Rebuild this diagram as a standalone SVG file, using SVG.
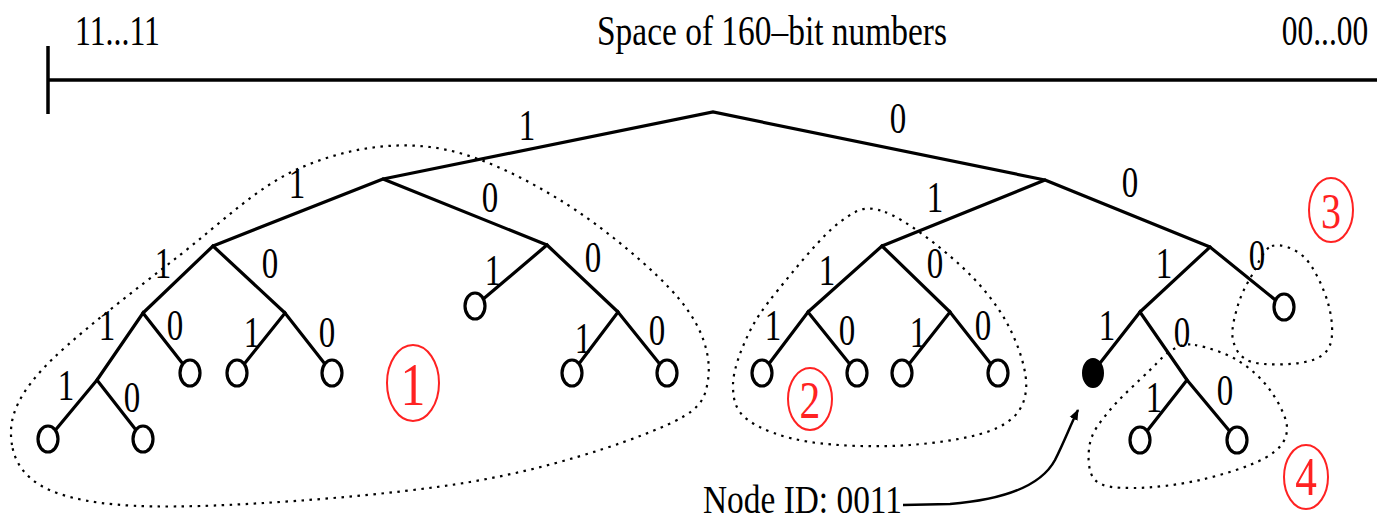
<svg xmlns="http://www.w3.org/2000/svg" width="1377" height="522" viewBox="0 0 1377 522">
<style>
.axis{stroke:#000;stroke-width:3.5;fill:none}
.edge{stroke:#000;stroke-width:3.2;fill:none;stroke-linecap:round}
.leaf{fill:#fff;stroke:#000;stroke-width:3.2}
.me{fill:#000;stroke:#000;stroke-width:2}
.dot{fill:none;stroke:#000;stroke-width:2.2;stroke-dasharray:2.5 5.5}
.ttl{font-family:"Liberation Serif","Times New Roman",serif;font-size:43px;fill:#000}
.sq{text-anchor:middle;transform-box:fill-box;transform-origin:center;transform:scaleX(0.73)}
.lbl{font-family:"Liberation Serif","Times New Roman",serif;font-size:44px;fill:#000;text-anchor:middle;transform-box:fill-box;transform-origin:center;transform:scaleX(0.75)}
.rc{fill:none;stroke:#f22;stroke-width:2}
.rn{font-family:"Liberation Serif","Times New Roman",serif;fill:#f22;text-anchor:middle;transform-box:fill-box;transform-origin:center;transform:scaleX(0.8)}
</style>
<defs>
<marker id="ah" viewBox="0 0 10 10" refX="9" refY="5" markerUnits="userSpaceOnUse" markerWidth="11" markerHeight="11" orient="auto">
<path d="M0,1 L10,5 L0,9 z" fill="#000"/>
</marker>
</defs>
<rect width="1377" height="522" fill="#fff"/>

<g id="axis">
<line class="axis" x1="48" y1="80" x2="1377" y2="80"/>
<line class="axis" x1="48" y1="46" x2="48" y2="114"/>
<text class="ttl" x="75" y="45" textLength="85" lengthAdjust="spacingAndGlyphs">11...11</text>
<text class="ttl" x="597" y="45" textLength="350" lengthAdjust="spacingAndGlyphs">Space of 160–bit numbers</text>
<text class="ttl sq" x="1325" y="45">00...00</text>
</g>

<g id="regions">
<path class="dot" d="M12,445 C8.7,424.7 12,403.7 40,372 C68,340.3 136.7,289 180,255 C223.3,221 258.3,186 300,168 C341.7,150 386.7,141.7 430,147 C473.3,152.3 518.3,174.5 560,200 C601.7,225.5 655.3,270 680,300 C704.7,330 711.3,358.7 708,380 C704.7,401.3 699.7,411 660,428 C620.3,445 546.7,469 470,482 C393.3,495 268.3,504 200,506 C131.7,508 91.3,504.2 60,494 C28.7,483.8 15.3,465.3 12,445 Z"/>
<path class="dot" d="M885,212 C905,219.2 939.5,246.2 960,265 C980.5,283.8 997,304.2 1008,325 C1019,345.8 1027.8,372.8 1026,390 C1024.2,407.2 1016.3,418.8 997,428 C977.7,437.2 941.2,442.7 910,445 C878.8,447.3 837,446.2 810,442 C783,437.8 760.8,429.5 748,420 C735.2,410.5 733,399.2 733,385 C733,370.8 740.5,350.8 748,335 C755.5,319.2 762.7,308.8 778,290 C793.3,271.2 822.2,235 840,222 C857.8,209 865,204.8 885,212 Z"/>
<path class="dot" d="M1272,246 C1280.8,243.2 1295.7,248.5 1305,258 C1314.3,267.5 1323.8,288.5 1328,303 C1332.2,317.5 1333.8,335.2 1330,345 C1326.2,354.8 1318,359.2 1305,362 C1292,364.8 1264,365.7 1252,362 C1240,358.3 1235.3,349.5 1233,340 C1230.7,330.5 1234.8,315.8 1238,305 C1241.2,294.2 1246.3,284.8 1252,275 C1257.7,265.2 1263.2,248.8 1272,246 Z"/>
<path class="dot" d="M1195,345 C1205.8,346.7 1224.5,352.5 1237,360 C1249.5,367.5 1261.7,378.3 1270,390 C1278.3,401.7 1287.8,418.7 1287,430 C1286.2,441.3 1279.5,449.7 1265,458 C1250.5,466.3 1221.8,475 1200,480 C1178.2,485 1151.5,488 1134,488 C1116.5,488 1102.3,487.5 1095,480 C1087.7,472.5 1087.5,454.7 1090,443 C1092.5,431.3 1100,422.2 1110,410 C1120,397.8 1139.7,380 1150,370 C1160.3,360 1164.5,354.2 1172,350 C1179.5,345.8 1184.2,343.3 1195,345 Z"/>
</g>

<g id="connectors">
<polyline class="edge" points="383,179 713,112 1045,180"/>
<polyline class="edge" points="213,246 383,179 547,245"/>
<polyline class="edge" points="143,313 213,246 285,313"/>
<polyline class="edge" points="97,380 143,313 190,373"/>
<polyline class="edge" points="48,439 97,380 143,439"/>
<polyline class="edge" points="237,373 285,313 332,373"/>
<polyline class="edge" points="475,306 547,245 618,312"/>
<polyline class="edge" points="572,373 618,312 667,373"/>
<polyline class="edge" points="882,246 1045,180 1210,247"/>
<polyline class="edge" points="808,312 882,246 950,312"/>
<polyline class="edge" points="762,373 808,312 857,373"/>
<polyline class="edge" points="902,373 950,312 998,373"/>
<polyline class="edge" points="1140,312 1210,247 1284,307"/>
<polyline class="edge" points="1093,372 1140,312 1187,380"/>
<polyline class="edge" points="1140,440 1187,380 1237,440"/>
<path d="M903,505 L950,504 C1000,500 1040,488 1055,460 C1065,440 1070,426 1078,410" fill="none" stroke="#000" stroke-width="2.5" marker-end="url(#ah)"/>
</g>

<g id="edge-labels">
<text class="lbl" x="527" y="140">1</text>
<text class="lbl" x="898" y="133">0</text>
<text class="lbl" x="297" y="198">1</text>
<text class="lbl" x="490" y="212">0</text>
<text class="lbl" x="935" y="212">1</text>
<text class="lbl" x="1130" y="197">0</text>
<text class="lbl" x="163" y="278">1</text>
<text class="lbl" x="270" y="278">0</text>
<text class="lbl" x="493" y="285">1</text>
<text class="lbl" x="593" y="272">0</text>
<text class="lbl" x="827" y="285">1</text>
<text class="lbl" x="935" y="278">0</text>
<text class="lbl" x="1164" y="278">1</text>
<text class="lbl" x="1257" y="270">0</text>
<text class="lbl" x="107" y="340">1</text>
<text class="lbl" x="175" y="340">0</text>
<text class="lbl" x="252" y="347">1</text>
<text class="lbl" x="327" y="347">0</text>
<text class="lbl" x="583" y="353">1</text>
<text class="lbl" x="657" y="345">0</text>
<text class="lbl" x="773" y="340">1</text>
<text class="lbl" x="847" y="345">0</text>
<text class="lbl" x="918" y="347">1</text>
<text class="lbl" x="983" y="340">0</text>
<text class="lbl" x="1107" y="340">1</text>
<text class="lbl" x="1182" y="347">0</text>
<text class="lbl" x="66" y="400">1</text>
<text class="lbl" x="132" y="412">0</text>
<text class="lbl" x="1154" y="412">1</text>
<text class="lbl" x="1225" y="405">0</text>
</g>

<g id="leaf-11111"><ellipse class="leaf" cx="48" cy="439" rx="10" ry="13"/></g>
<g id="leaf-11110"><ellipse class="leaf" cx="143" cy="439" rx="10" ry="13"/></g>
<g id="leaf-1110"><ellipse class="leaf" cx="190" cy="373" rx="10" ry="13"/></g>
<g id="leaf-1101"><ellipse class="leaf" cx="237" cy="373" rx="10" ry="13"/></g>
<g id="leaf-1100"><ellipse class="leaf" cx="332" cy="373" rx="10" ry="13"/></g>
<g id="leaf-101"><ellipse class="leaf" cx="475" cy="306" rx="10" ry="13"/></g>
<g id="leaf-1001"><ellipse class="leaf" cx="572" cy="373" rx="10" ry="13"/></g>
<g id="leaf-1000"><ellipse class="leaf" cx="667" cy="373" rx="10" ry="13"/></g>
<g id="leaf-0111"><ellipse class="leaf" cx="762" cy="373" rx="10" ry="13"/></g>
<g id="leaf-0110"><ellipse class="leaf" cx="857" cy="373" rx="10" ry="13"/></g>
<g id="leaf-0101"><ellipse class="leaf" cx="902" cy="373" rx="10" ry="13"/></g>
<g id="leaf-0100"><ellipse class="leaf" cx="998" cy="373" rx="10" ry="13"/></g>
<g id="leaf-000"><ellipse class="leaf" cx="1284" cy="307" rx="10" ry="13"/></g>
<g id="node-0011"><ellipse class="me" cx="1093" cy="373" rx="10" ry="14"/></g>
<g id="leaf-00101"><ellipse class="leaf" cx="1140" cy="440" rx="10" ry="13"/></g>
<g id="leaf-00100"><ellipse class="leaf" cx="1237" cy="440" rx="10" ry="13"/></g>

<g id="node-id-label"><text class="ttl" x="703" y="513" style="font-size:40px" textLength="199" lengthAdjust="spacingAndGlyphs">Node ID: 0011</text></g>

<g id="mark-1"><ellipse class="rc" cx="413" cy="383" rx="26" ry="38"/><text class="rn" x="413" y="405" font-size="62">1</text></g>
<g id="mark-2"><ellipse class="rc" cx="810" cy="399" rx="22" ry="31"/><text class="rn" x="810" y="418" font-size="52">2</text></g>
<g id="mark-3"><ellipse class="rc" cx="1331" cy="210" rx="22" ry="32"/><text class="rn" x="1331" y="228" font-size="50">3</text></g>
<g id="mark-4"><ellipse class="rc" cx="1306" cy="477" rx="22" ry="32"/><text class="rn" x="1306" y="495" font-size="54">4</text></g>
</svg>
